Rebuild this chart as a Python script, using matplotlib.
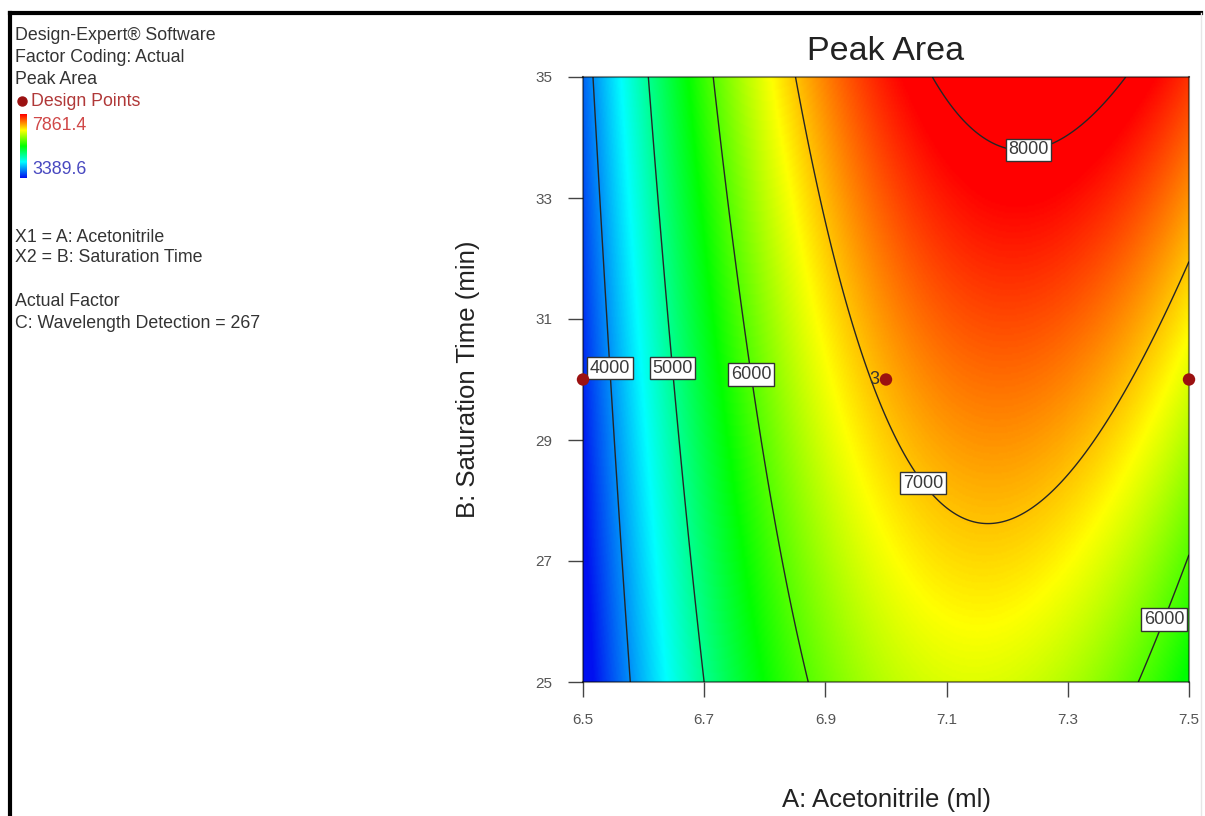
import numpy as np
import matplotlib
matplotlib.use("Agg")
import matplotlib.pyplot as plt
from matplotlib.colors import LinearSegmentedColormap
from matplotlib.lines import Line2D

plt.rcParams['font.family'] = ['Liberation Sans', 'DejaVu Sans']

# Factor ranges (actual units)
a_range = [6.5, 7.5]    # A: Acetonitrile (ml)
b_range = [25.0, 35.0]  # B: Saturation Time (min)

# Quadratic response model for Peak Area in coded units, C held at 267
coef_intercept = 7082.0
coef_A = 1544.0
coef_B = 660.0
coef_AB = 374.0
coef_A2 = -2031.0
coef_B2 = 12.0

# Observed response range used for the colour key
resp_min = 3389.6
resp_max = 7861.4

contour_levels = [4000, 5000, 6000, 7000, 8000]

# Design points in this slice
design_A = [6.5, 7.0, 7.5]
design_B = [30.0, 30.0, 30.0]
design_reps = ["", "3", ""]

x_ticks = [6.5, 6.7, 6.9, 7.1, 7.3, 7.5]
y_ticks = [25, 27, 29, 31, 33, 35]

# Where contour labels sit (data coordinates)
label_spots = [(6.546, 30.19), (6.652, 30.19), (6.761, 30.06),
               (7.064, 28.31), (7.234, 33.91), (7.452, 26.06)]

W, H = 1205, 816
fig = plt.figure(figsize=(W / 100, H / 100), dpi=100)
fig.patch.set_facecolor('white')


def fx(px):
    return px / W


def fy(py):
    return 1 - py / H


cmap = LinearSegmentedColormap.from_list(
    'de_rainbow', ['#0010f0', '#00ffff', '#00ff00', '#ffff00', '#ff0000'])

# Response surface on a fine grid
A = np.linspace(a_range[0], a_range[1], 401)
B = np.linspace(b_range[0], b_range[1], 401)
AA, BB = np.meshgrid(A, B)
a_c = (AA - np.mean(a_range)) / ((a_range[1] - a_range[0]) / 2)
b_c = (BB - np.mean(b_range)) / ((b_range[1] - b_range[0]) / 2)
Z = (coef_intercept + coef_A * a_c + coef_B * b_c + coef_AB * a_c * b_c
     + coef_A2 * a_c ** 2 + coef_B2 * b_c ** 2)

ax = fig.add_axes([fx(583), fy(682), fx(1189 - 583), (682 - 77) / H])
ax.imshow(Z, extent=[a_range[0], a_range[1], b_range[0], b_range[1]],
          origin='lower', aspect='auto', cmap=cmap, vmin=resp_min,
          vmax=resp_max, interpolation='bilinear')
cs = ax.contour(AA, BB, Z, levels=contour_levels, colors='#262626',
                linewidths=1.0)
texts = ax.clabel(cs, fmt='%d', inline=False, fontsize=13,
                  manual=label_spots, colors='#3a3a3a')
for t in texts:
    t.set_rotation(0)
    t.set_bbox(dict(facecolor='white', edgecolor='#333333',
                    boxstyle='square,pad=0.15', linewidth=1.0))
    t.set_zorder(6)

ax.scatter(design_A, design_B, s=80, color='#9b1111', zorder=7,
           clip_on=False, edgecolors='none')
for xa, yb, rep in zip(design_A, design_B, design_reps):
    if rep:
        ax.annotate(rep, (xa, yb), xytext=(-5, 0), textcoords='offset points',
                    ha='right', va='center', fontsize=13, color='#333333',
                    zorder=8)

ax.set_xlim(a_range)
ax.set_ylim(b_range)
ax.set_xticks(x_ticks)
ax.set_xticklabels([f'{v:.1f}' for v in x_ticks])
ax.set_yticks(y_ticks)
ax.set_yticklabels([str(v) for v in y_ticks])
ax.tick_params(direction='out', length=11, width=1, color='#444444',
               labelsize=11, labelcolor='#555555', pad=11)
for s in ax.spines.values():
    s.set_color((0, 0, 0, 0.45))
    s.set_linewidth(1.5)

fig.text(fx(886), fy(52), 'Peak Area', ha='center', va='center',
         fontsize=24.5, color='#222222')
fig.text(fx(886), fy(800), 'A: Acetonitrile (ml)', ha='center',
         va='center', fontsize=18.5, color='#222222')
fig.text(fx(468), fy(379), 'B: Saturation Time (min)', ha='center',
         va='center', rotation=90, fontsize=18.5, color='#222222')

# Side panel
info_color = '#333333'
fs_info = 12.8
fig.text(fx(15), fy(36), 'Design-Expert® Software', va='center',
         fontsize=fs_info, color=info_color)
fig.text(fx(15), fy(57), 'Factor Coding: Actual', va='center',
         fontsize=fs_info, color=info_color)
fig.text(fx(15), fy(79), 'Peak Area', va='center', fontsize=fs_info,
         color=info_color)
fig.add_artist(Line2D([fx(22)], [fy(101)], marker='o', markersize=6.5,
                      color='#9b1111', transform=fig.transFigure))
fig.text(fx(31), fy(101), 'Design Points', va='center', fontsize=fs_info,
         color='#b03838')

cax = fig.add_axes([fx(20), fy(178), fx(7), 64 / H])
cax.imshow(np.linspace(0, 1, 128).reshape(-1, 1), origin='lower',
           aspect='auto', cmap=cmap)
cax.set_axis_off()
fig.text(fx(32), fy(125), f'{resp_max:.1f}', va='center', fontsize=fs_info,
         color='#d04848')
fig.text(fx(32), fy(170), f'{resp_min:.1f}', va='center', fontsize=fs_info,
         color='#4848c0')

fig.text(fx(15), fy(237), 'X1 = A: Acetonitrile', va='center',
         fontsize=fs_info, color=info_color)
fig.text(fx(15), fy(258), 'X2 = B: Saturation Time', va='center',
         fontsize=fs_info, color=info_color)
fig.text(fx(15), fy(302), 'Actual Factor', va='center', fontsize=fs_info,
         color=info_color)
fig.text(fx(15), fy(324), 'C: Wavelength Detection = 267', va='center',
         fontsize=fs_info, color=info_color)

# Outer frame
fig.add_artist(Line2D([fx(10), fx(10)], [0, fy(13)], color='black', lw=3,
                      transform=fig.transFigure))
fig.add_artist(Line2D([fx(10), fx(1201)], [fy(13), fy(13)], color='black',
                      lw=3, transform=fig.transFigure))
fig.add_artist(Line2D([fx(1201), fx(1201)], [0, fy(13)], color='#e6e6e6',
                      lw=1, transform=fig.transFigure))

fig.savefig('out.png', dpi=100, facecolor='white')
